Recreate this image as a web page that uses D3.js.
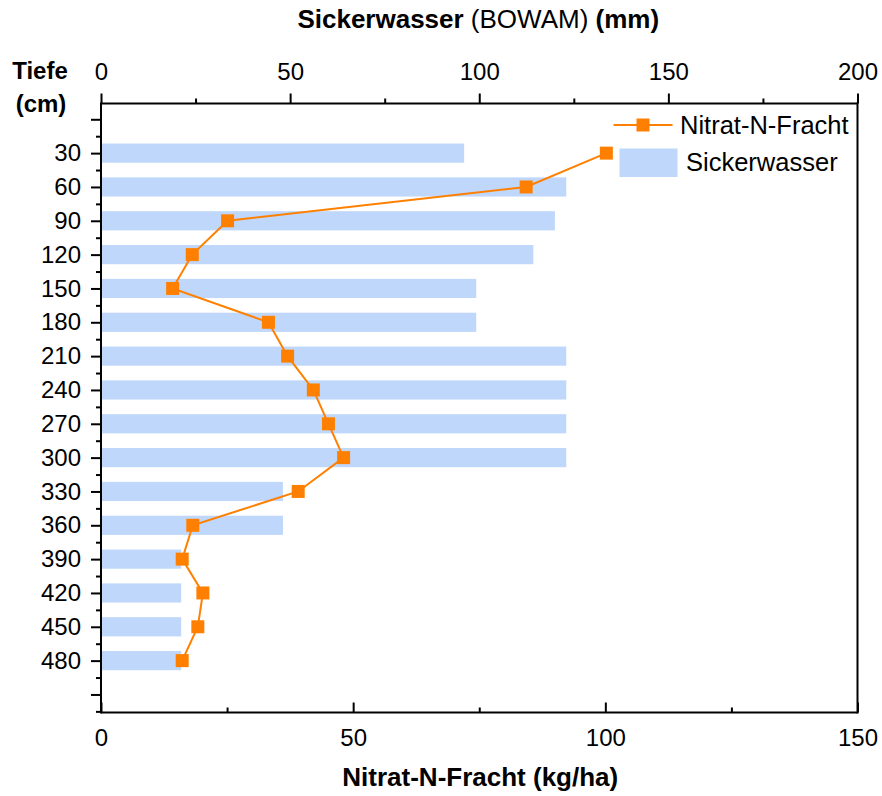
<!DOCTYPE html>
<html>
<head>
<meta charset="utf-8">
<script src="https://cdn.jsdelivr.net/npm/d3@7/dist/d3.min.js"></script>
<style>
  html, body { margin: 0; padding: 0; background: #fff; }
  svg { display: block; font-family: "Liberation Sans", Arial, sans-serif; }
</style>
</head>
<body>
<svg id="chart" width="882" height="796"></svg>
<script>
// Depth classes (cm)
const depths = [30, 60, 90, 120, 150, 180, 210, 240, 270, 300, 330, 360, 390, 420, 450, 480];
// Seepage water per depth (mm, BOWAM)
const sickerwasser = [96, 123, 120, 114.3, 99.2, 99.2, 123, 123, 123, 123, 48.1, 48.1, 21.2, 21.2, 21.2, 21.2];
// Nitrate-N load per depth (kg/ha)
const nitratFracht = [100.2, 84.3, 25.1, 18.1, 14.2, 33.2, 37.0, 42.1, 45.1, 48.1, 39.1, 18.2, 16.1, 20.2, 19.2, 16.1];
// Axis ticks
const topTicks = [0, 50, 100, 150, 200];
const bottomTicks = [0, 50, 100, 150];
const depthMajorTicks = [0, 30, 60, 90, 120, 150, 180, 210, 240, 270, 300, 330, 360, 390, 420, 450, 480, 510];

const svg = d3.select("#chart");
const pLeft = 101, pRight = 857.5, pTop = 103.5, pBottom = 712.5;
const orange = "#ff8000";
const blue = "#bfd7fa";

const xTop = d3.scaleLinear().domain([0, 200]).range([pLeft, pRight]);
const xBottom = d3.scaleLinear().domain([0, 150]).range([pLeft, pRight]);
const y = d3.scaleLinear().domain([-14, 526]).range([pTop, pBottom]);

const barHalf = 8.5; // half bar thickness in cm

// Seepage bars
svg.append("g").selectAll("rect")
  .data(depths.map((d, i) => ({ d, v: sickerwasser[i] })))
  .join("rect")
  .attr("x", xTop(0))
  .attr("y", p => y(p.d - barHalf))
  .attr("width", p => xTop(p.v) - xTop(0))
  .attr("height", p => y(p.d + barHalf) - y(p.d - barHalf))
  .attr("fill", blue);

// Nitrate line and markers
const pts = depths.map((d, i) => ({ d, v: nitratFracht[i] }));
svg.append("path")
  .datum(pts)
  .attr("fill", "none")
  .attr("stroke", orange)
  .attr("stroke-width", 2)
  .attr("d", d3.line().x(p => xBottom(p.v)).y(p => y(p.d)));

const ms = 13;
svg.append("g").selectAll("rect")
  .data(pts)
  .join("rect")
  .attr("x", p => xBottom(p.v) - ms / 2)
  .attr("y", p => y(p.d) - ms / 2)
  .attr("width", ms)
  .attr("height", ms)
  .attr("fill", orange);

// Axes
function styleAxis(g) {
  g.selectAll(".domain").remove();
  g.selectAll("line").attr("stroke", "#000").attr("stroke-width", 2);
  g.selectAll("text").attr("fill", "#000").attr("font-size", 24)
    .attr("font-family", "'Liberation Sans', Arial, sans-serif");
}

// top axis: major + minor, outward
const topMinor = d3.range(25, 200, 50);
svg.append("g").attr("transform", `translate(0,${pTop})`)
  .call(d3.axisTop(xTop).tickValues(topMinor).tickSize(5).tickFormat(""))
  .call(styleAxis);
svg.append("g").attr("transform", `translate(0,${pTop})`)
  .call(d3.axisTop(xTop).tickValues(topTicks).tickSize(10).tickPadding(14).tickFormat(d3.format("d")))
  .call(styleAxis);

// bottom axis: ticks inward
const bottomMinor = d3.range(25, 150, 50);
svg.append("g").attr("transform", `translate(0,${pBottom})`)
  .call(d3.axisTop(xBottom).tickValues(bottomMinor).tickSize(5).tickFormat(""))
  .call(styleAxis);
svg.append("g").attr("transform", `translate(0,${pBottom})`)
  .call(d3.axisTop(xBottom).tickValues(bottomTicks).tickSize(10).tickFormat(""))
  .call(styleAxis);
svg.append("g").attr("transform", `translate(0,${pBottom})`)
  .call(d3.axisBottom(xBottom).tickValues(bottomTicks).tickSize(0).tickPadding(16).tickFormat(d3.format("d")))
  .call(styleAxis);

// left depth axis
const depthMinor = d3.range(15, 526, 30);
svg.append("g").attr("transform", `translate(${pLeft},0)`)
  .call(d3.axisLeft(y).tickValues(depthMinor).tickSize(5).tickFormat(""))
  .call(styleAxis);
svg.append("g").attr("transform", `translate(${pLeft},0)`)
  .call(d3.axisLeft(y).tickValues(depthMajorTicks).tickSize(10).tickPadding(10)
    .tickFormat(d => depths.includes(d) ? d : ""))
  .call(styleAxis);

// frame lines
svg.append("g").attr("stroke", "#000").attr("stroke-width", 2).attr("fill", "none")
  .selectAll("line")
  .data([
    [pLeft, pTop, pRight, pTop],
    [pLeft, pBottom, pRight, pBottom],
    [pLeft, pTop - 1, pLeft, pBottom + 1],
    [pRight, pTop - 1, pRight, pBottom + 1]
  ])
  .join("line")
  .attr("x1", d => d[0]).attr("y1", d => d[1]).attr("x2", d => d[2]).attr("y2", d => d[3]);

// Titles
const topTitle = svg.append("text")
  .attr("x", (pLeft + pRight) / 2 - 1).attr("y", 28)
  .attr("text-anchor", "middle").attr("font-size", 26).attr("fill", "#000");
topTitle.append("tspan").attr("font-weight", "bold").text("Sickerwasser");
topTitle.append("tspan").text(" (BOWAM) ");
topTitle.append("tspan").attr("font-weight", "bold").text("(mm)");

svg.append("text")
  .attr("x", (pLeft + pRight) / 2 + 1).attr("y", 786)
  .attr("text-anchor", "middle").attr("font-size", 26).attr("font-weight", "bold")
  .attr("fill", "#000").text("Nitrat-N-Fracht (kg/ha)");

svg.append("text").attr("x", 40).attr("y", 79)
  .attr("text-anchor", "middle").attr("font-size", 24).attr("font-weight", "bold").text("Tiefe");
svg.append("text").attr("x", 41).attr("y", 112)
  .attr("text-anchor", "middle").attr("font-size", 24).attr("font-weight", "bold").text("(cm)");

// Legend
const lg = svg.append("g");
lg.append("line").attr("x1", 613.5).attr("x2", 672.5).attr("y1", 125).attr("y2", 125)
  .attr("stroke", orange).attr("stroke-width", 2);
lg.append("rect").attr("x", 643 - ms / 2).attr("y", 125 - ms / 2)
  .attr("width", ms).attr("height", ms).attr("fill", orange);
lg.append("text").attr("x", 680).attr("y", 133.5).attr("font-size", 25.5).text("Nitrat-N-Fracht");
lg.append("rect").attr("x", 619.5).attr("y", 148.5).attr("width", 58).attr("height", 28.5).attr("fill", blue);
lg.append("text").attr("x", 686).attr("y", 170.5).attr("font-size", 25.5).text("Sickerwasser");
</script>
</body>
</html>
